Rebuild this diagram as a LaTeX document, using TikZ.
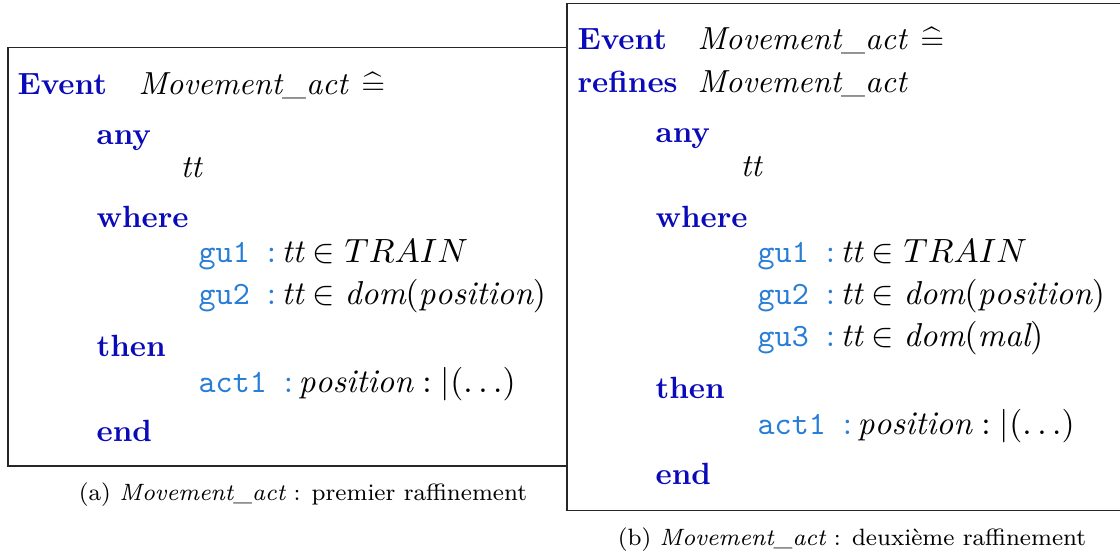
\documentclass[tikz,border=0pt]{standalone}
\usepackage{fontspec}
\definecolor{kwblue}{RGB}{10,10,185}
\definecolor{lblblue}{RGB}{40,125,215}
\tikzset{
  kw/.style={anchor=base west, inner sep=0pt, font=\bfseries, text=kwblue},
  txt/.style={anchor=base west, inner sep=0pt, font=\fontsize{10.4}{12}\selectfont},
  lbl/.style={anchor=base west, inner sep=0pt, font=\fontsize{10.8}{12}\selectfont},
  captext/.style={anchor=base, inner sep=0pt, font=\fontsize{7.7}{9}\selectfont},
  frame/.style={draw=black!85, line width=0.45pt}
}
\newcommand{\lb}[1]{{\color{lblblue}{\fontsize{10.6}{12}\ttfamily #1\ }:}\,}
\newcommand{\mact}{\mathit{Movement\_act}}
\begin{document}
\begin{tikzpicture}[x=0.326pt, y=-0.326pt]
\useasboundingbox (0,0) rectangle (1120,552);
\clip (0,0) rectangle (1120,552);
% frames
\draw[frame] (8,47.5) rectangle (567,466);
\draw[frame] (567,3.3) rectangle (1130,510.7);
% left event
\node[kw] (le) at (17,95) {Event};
\node[txt] (ln) at (138,95) {$\mact\,\mathrel{\widehat{=}}$};
\node[kw] (lany) at (96,145) {any};
\node[txt] (ltt) at (180,178) {$\mathit{tt}$};
\node[kw] (lwhere) at (96,228) {where};
\node[lbl] (lg1) at (198,263) {\lb{gu1}$\mathit{tt} \in TRAIN$};
\node[lbl] (lg2) at (198,305) {\lb{gu2}$\mathit{tt} \in \mathit{dom}(\mathit{position})$};
\node[kw] (lthen) at (96,357) {then};
\node[lbl] (la1) at (198,392) {\lb{act1}$\mathit{position} : |(\ldots)$};
\node[kw] (lend) at (96,442) {end};
\node[captext] (lcap) at (303,500) {(a) $\mact$ : premier raffinement};
% right event
\node[kw] (re) at (577,50) {Event};
\node[txt] (rn) at (697,50) {$\mact\,\mathrel{\widehat{=}}$};
\node[kw] (rref) at (577,93) {refines};
\node[txt] (rrn) at (697,93) {$\mact$};
\node[kw] (rany) at (655,143) {any};
\node[txt] (rtt) at (740,177) {$\mathit{tt}$};
\node[kw] (rwhere) at (655,228) {where};
\node[lbl] (rg1) at (757,263) {\lb{gu1}$\mathit{tt} \in TRAIN$};
\node[lbl] (rg2) at (757,305) {\lb{gu2}$\mathit{tt} \in \mathit{dom}(\mathit{position})$};
\node[lbl] (rg3) at (757,347) {\lb{gu3}$\mathit{tt} \in \mathit{dom}(\mathit{mal})$};
\node[kw] (rthen) at (655,398) {then};
\node[lbl] (ra1) at (757,434) {\lb{act1}$\mathit{position} : |(\ldots)$};
\node[kw] (rend) at (655,485) {end};
\node[captext] (rcap) at (852,545) {(b) $\mact$ : deuxième raffinement};
\end{tikzpicture}
\end{document}
